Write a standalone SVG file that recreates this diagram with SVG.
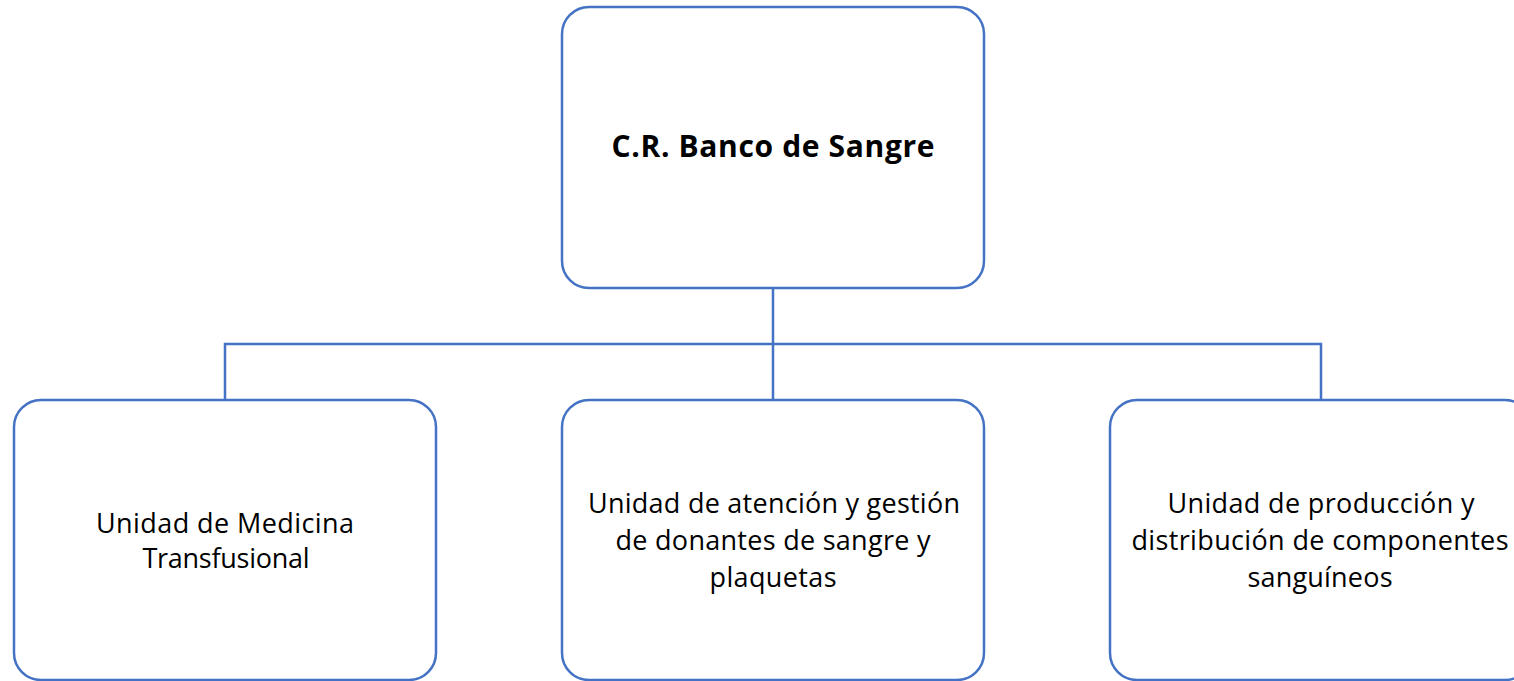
<svg xmlns="http://www.w3.org/2000/svg" width="1514" height="681" viewBox="0 0 1514 681">
<style>
.box{fill:#fff;stroke:#4472C4;stroke-width:2.5}
.conn{fill:none;stroke:#4472C4;stroke-width:2.5}
.t{font-family:"Open Sans","Noto Sans","Liberation Sans",sans-serif;font-size:27px;fill:#000;text-anchor:middle}
.title{font-family:"Open Sans","Noto Sans","Liberation Sans",sans-serif;font-size:30px;font-weight:bold;fill:#000;text-anchor:middle}
</style>
<rect width="1514" height="681" fill="#fff"/>
<g id="connectors">
<path class="conn" d="M773 288 V344"/>
<path class="conn" d="M225 400 V344 H1321 V400"/>
<path class="conn" d="M773 344 V400"/>
</g>
<g id="root">
<rect class="box" x="562" y="7" width="422" height="281" rx="27"/>
<text class="title" x="773" y="157" textLength="323">C.R. Banco de Sangre</text>
</g>
<g id="medicina">
<rect class="box" x="14" y="400" width="422" height="280" rx="27"/>
<text class="t" x="225" y="533" textLength="258">Unidad de Medicina</text>
<text class="t" x="226" y="568" textLength="167">Transfusional</text>
</g>
<g id="donantes">
<rect class="box" x="562" y="400" width="422" height="280" rx="27"/>
<text class="t" x="774" y="513" textLength="372">Unidad de atención y gestión</text>
<text class="t" x="773" y="550" textLength="315">de donantes de sangre y</text>
<text class="t" x="773" y="587" textLength="127">plaquetas</text>
</g>
<g id="produccion">
<rect class="box" x="1110" y="400" width="422" height="280" rx="27"/>
<text class="t" x="1321" y="513" textLength="307">Unidad de producción y</text>
<text class="t" x="1320" y="550" textLength="377">distribución de componentes</text>
<text class="t" x="1320" y="587" textLength="145">sanguíneos</text>
</g>
</svg>
